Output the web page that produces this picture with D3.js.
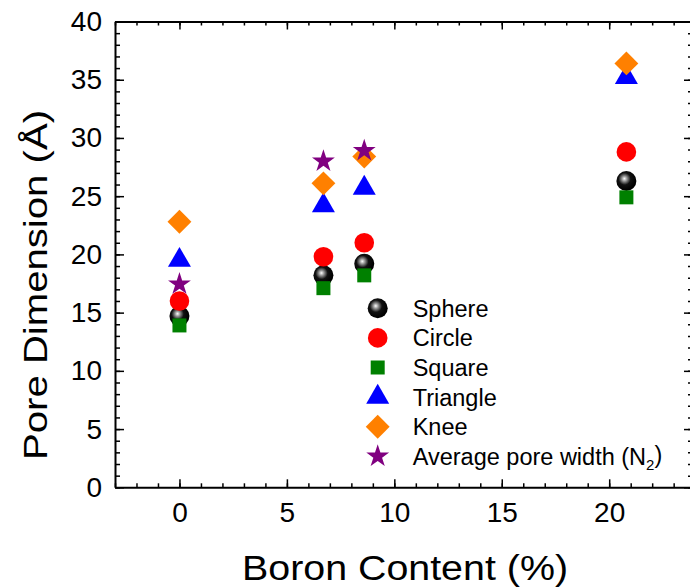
<!DOCTYPE html>
<html>
<head>
<meta charset="utf-8">
<script src="https://cdn.jsdelivr.net/npm/d3@7"></script>
<style>
  body { margin: 0; background: #fff; }
  svg { display: block; font-family: Arial, "Liberation Sans", sans-serif; }
</style>
</head>
<body>
<svg width="690" height="587"></svg>
<script>
// boron content (%) of the four samples
const boron = [0, 6.7, 8.6, 20.8];
// pore dimension (Å) per model
const sphere = [14.7, 18.2, 19.2, 26.3];
const circle = [16.0, 19.8, 21.0, 28.8];
const square = [13.9, 17.1, 18.2, 24.9];
const triangle = [19.5, 24.2, 25.7, 35.2];
const knee = [22.8, 26.1, 28.4, 36.4];
const avgWidth = [17.45, 28.0, 28.9, null];

const xTicks = [0, 5, 10, 15, 20];
const yTicks = [0, 5, 10, 15, 20, 25, 30, 35, 40];

const svg = d3.select('svg');

const x = d3.scaleLinear().domain([-3, 23.9]).range([115, 693]);
const y = d3.scaleLinear().domain([0, 40]).range([487.3, 21.5]);

const defs = svg.append('defs');
const grad = defs.append('radialGradient')
  .attr('id', 'ball')
  .attr('cx', '42%').attr('cy', '40%').attr('r', '55%')
  .attr('fx', '40%').attr('fy', '38%');
grad.append('stop').attr('offset', '0%').attr('stop-color', '#ffffff');
grad.append('stop').attr('offset', '22%').attr('stop-color', '#9a9a9a');
grad.append('stop').attr('offset', '55%').attr('stop-color', '#111111');
grad.append('stop').attr('offset', '100%').attr('stop-color', '#000000');

// series in drawing order (same as legend)
const series = [
  { name: 'Sphere', values: sphere, kind: 'ball', fill: 'url(#ball)' },
  { name: 'Circle', values: circle, kind: 'circle', fill: '#ff0000' },
  { name: 'Square', values: square, kind: 'square', fill: '#008000' },
  { name: 'Triangle', values: triangle, kind: 'triangle', fill: '#0000ff' },
  { name: 'Knee', values: knee, kind: 'diamond', fill: '#ff8000' },
  { name: 'Average pore width (N', sub: '2', tail: ')', values: avgWidth, kind: 'star', fill: '#800080' }
];

function marker(sel, kind, fill) {
  if (kind === 'ball' || kind === 'circle') {
    sel.append('circle').attr('r', kind === 'ball' ? 10 : 9.8).attr('fill', fill);
  } else if (kind === 'square') {
    sel.append('path').attr('d', d3.symbol(d3.symbolSquare, 196)()).attr('fill', fill);
  } else if (kind === 'triangle') {
    sel.append('path').attr('d', d3.symbol(d3.symbolTriangle, 229)()).attr('fill', fill);
  } else if (kind === 'diamond') {
    sel.append('path').attr('d', d3.symbol(d3.symbolSquare, 285)())
      .attr('transform', 'rotate(45)').attr('fill', fill);
  } else if (kind === 'star') {
    sel.append('path').attr('d', d3.symbol(d3.symbolStar, 162)()).attr('fill', fill);
  }
}

// axes
const axisStyle = g => {
  g.select('.domain').attr('stroke', '#000').attr('stroke-width', 2);
  g.selectAll('.tick line').attr('stroke', '#000').attr('stroke-width', 1.5);
  g.selectAll('.tick text').attr('fill', '#000').attr('font-size', 28)
    .attr('font-family', 'Arial, "Liberation Sans", sans-serif');
};

const minorX = d3.range(-3, 24, 1);
const minorY = d3.range(0, 41, 1);

// bottom
svg.append('g').attr('transform', `translate(0,${y(0)})`)
  .call(d3.axisBottom(x).tickValues(minorX).tickSizeInner(-4).tickSizeOuter(0).tickFormat(''))
  .call(axisStyle);
svg.append('g').attr('transform', `translate(0,${y(0)})`)
  .call(d3.axisBottom(x).tickValues(xTicks).tickSizeInner(-8).tickSizeOuter(0).tickPadding(15).tickFormat(d3.format('d')))
  .call(axisStyle).call(g => g.select('.domain').remove());
// top
svg.append('g').attr('transform', `translate(0,${y(40)})`)
  .call(d3.axisTop(x).tickValues(minorX).tickSizeInner(-4).tickSizeOuter(0).tickFormat(''))
  .call(axisStyle);
svg.append('g').attr('transform', `translate(0,${y(40)})`)
  .call(d3.axisTop(x).tickValues(xTicks).tickSizeInner(-8).tickSizeOuter(0).tickFormat(''))
  .call(axisStyle).call(g => g.select('.domain').remove());
// left
svg.append('g').attr('transform', `translate(${x(-3)},0)`)
  .call(d3.axisLeft(y).tickValues(minorY).tickSizeInner(-5).tickSizeOuter(0).tickFormat(''))
  .call(axisStyle);
svg.append('g').attr('transform', `translate(${x(-3)},0)`)
  .call(d3.axisLeft(y).tickValues(yTicks).tickSizeInner(-9).tickSizeOuter(0).tickPadding(13).tickFormat(d3.format('d')))
  .call(axisStyle).call(g => g.select('.domain').remove());
// right
svg.append('g').attr('transform', `translate(${x(23.9)},0)`)
  .call(d3.axisRight(y).tickValues(minorY).tickSizeInner(-5).tickSizeOuter(0).tickFormat(''))
  .call(axisStyle);
svg.append('g').attr('transform', `translate(${x(23.9)},0)`)
  .call(d3.axisRight(y).tickValues(yTicks).tickSizeInner(-9).tickSizeOuter(0).tickFormat(''))
  .call(axisStyle).call(g => g.select('.domain').remove());

// data points
series.forEach(s => {
  s.values.forEach((v, i) => {
    if (v == null) return;
    const g = svg.append('g').attr('transform', `translate(${x(boron[i])},${y(v)})`);
    marker(g, s.kind, s.fill);
  });
});

// legend
const legend = svg.append('g');
series.forEach((s, i) => {
  const ly = 308.3 + i * 29.6;
  const g = legend.append('g').attr('transform', `translate(377.7,${ly})`);
  marker(g, s.kind, s.fill);
  const t = legend.append('text')
    .attr('x', 412.7).attr('y', ly).attr('dy', '0.36em')
    .attr('font-size', 23.5).attr('fill', '#000')
    .text(s.name);
  if (s.sub) {
    t.append('tspan').attr('font-size', 15).attr('dy', '0.35em').text(s.sub);
    t.append('tspan').attr('dy', '-0.3em').attr('font-size', 23.5).text(s.tail);
  }
});

// axis titles
svg.append('text')
  .attr('x', 405).attr('y', 580)
  .attr('text-anchor', 'middle')
  .attr('font-size', 35)
  .attr('textLength', 326).attr('lengthAdjust', 'spacingAndGlyphs')
  .text('Boron Content (%)');

svg.append('text')
  .attr('transform', 'translate(47,285) rotate(-90)')
  .attr('text-anchor', 'middle')
  .attr('font-size', 34)
  .attr('textLength', 350).attr('lengthAdjust', 'spacingAndGlyphs')
  .text('Pore Dimension (Å)');
</script>
</body>
</html>
